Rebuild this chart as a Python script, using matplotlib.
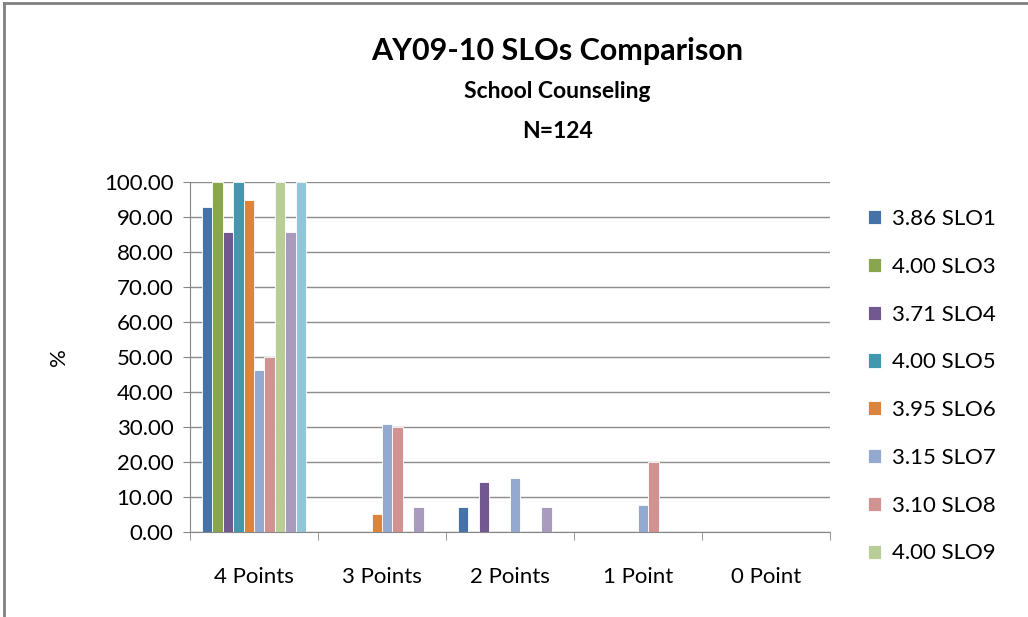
import matplotlib.pyplot as plt
import numpy as np
from matplotlib.lines import Line2D

categories = ["4 Points", "3 Points", "2 Points", "1 Point", "0 Point"]
series_names = ["3.86 SLO1", "4.00 SLO3", "3.71 SLO4", "4.00 SLO5", "3.95 SLO6",
                "3.15 SLO7", "3.10 SLO8", "4.00 SLO9", "3.79 SLO10", "4.00 SLO11"]
slo1 = [92.86, 0, 7.14, 0, 0]
slo3 = [100.00, 0, 0, 0, 0]
slo4 = [85.71, 0, 14.29, 0, 0]
slo5 = [100.00, 0, 0, 0, 0]
slo6 = [94.74, 5.26, 0, 0, 0]
slo7 = [46.15, 30.77, 15.38, 7.69, 0]
slo8 = [50.00, 30.00, 0, 20.00, 0]
slo9 = [100.00, 0, 0, 0, 0]
slo10 = [85.71, 7.14, 7.14, 0, 0]
slo11 = [100.00, 0, 0, 0, 0]

colors = ["#4572A7", "#89A54E", "#71588F", "#4198AF", "#DB843D",
          "#93A9CF", "#D19392", "#B9CD96", "#A99BBD", "#92C5D8"]

plt.rcParams['font.family'] = ['Lato', 'DejaVu Sans']

fig = plt.figure(figsize=(10.28, 6.17), dpi=100)
ax = fig.add_axes([190 / 1028, 1 - 532 / 617, 640 / 1028, 350 / 617])

all_series = [slo1, slo3, slo4, slo5, slo6, slo7, slo8, slo9, slo10, slo11]
x = np.arange(len(categories))
n = len(all_series)
w = 0.82 / n
handles = []
for i, vals in enumerate(all_series):
    b = ax.bar(x - 0.41 + w * (i + 0.5), vals, w, color=colors[i],
               edgecolor="white", linewidth=0.6, zorder=3, label=series_names[i])
    handles.append(b)

ax.set_xlim(-0.5, 4.5)
ax.set_ylim(0, 100)
ax.set_yticks(np.arange(0, 101, 10))
ax.set_yticklabels(["%.2f" % v for v in np.arange(0, 101, 10)], fontsize=16)
ax.set_xticks(x)
ax.set_xticklabels(categories, fontsize=16)
ax.set_xticks(np.arange(-0.5, 4.6, 1), minor=True)
ax.tick_params(axis="x", which="major", length=0, pad=25)
ax.tick_params(axis="x", which="minor", length=6, color="#868686")
ax.tick_params(axis="y", length=5, color="#868686", pad=7)
ax.yaxis.grid(True, color="#8c8c8c", linewidth=1, zorder=0)
for s in ["top", "right"]:
    ax.spines[s].set_visible(False)
ax.spines["left"].set_color("#868686")
ax.spines["bottom"].set_color("#868686")
ax.set_ylabel("%", fontsize=16, labelpad=25)

fig.text(557 / 1028, 1 - 51 / 617, "AY09-10 SLOs Comparison", ha="center", va="center",
         fontsize=22, fontweight="bold")
fig.text(557 / 1028, 1 - 91 / 617, "School Counseling", ha="center", va="center",
         fontsize=16.5, fontweight="bold")
fig.text(557 / 1028, 1 - 131 / 617, "N=124", ha="center", va="center",
         fontsize=16.5, fontweight="bold")

# only the first eight entries are visible in the original legend
fig.legend(handles=handles[:8], labels=series_names[:8], loc="upper left",
           bbox_to_anchor=(848 / 1028, 1 - 189 / 617), frameon=False, fontsize=16,
           handlelength=0.6, handleheight=0.6, handletextpad=0.5, labelspacing=1.25)

fig.add_artist(Line2D([4 / 1028, 1], [1 - 3 / 617, 1 - 3 / 617], color="#808080", linewidth=2))
fig.add_artist(Line2D([4 / 1028, 4 / 1028], [0, 1 - 3 / 617], color="#808080", linewidth=2))

fig.savefig("out.png", dpi=100)
